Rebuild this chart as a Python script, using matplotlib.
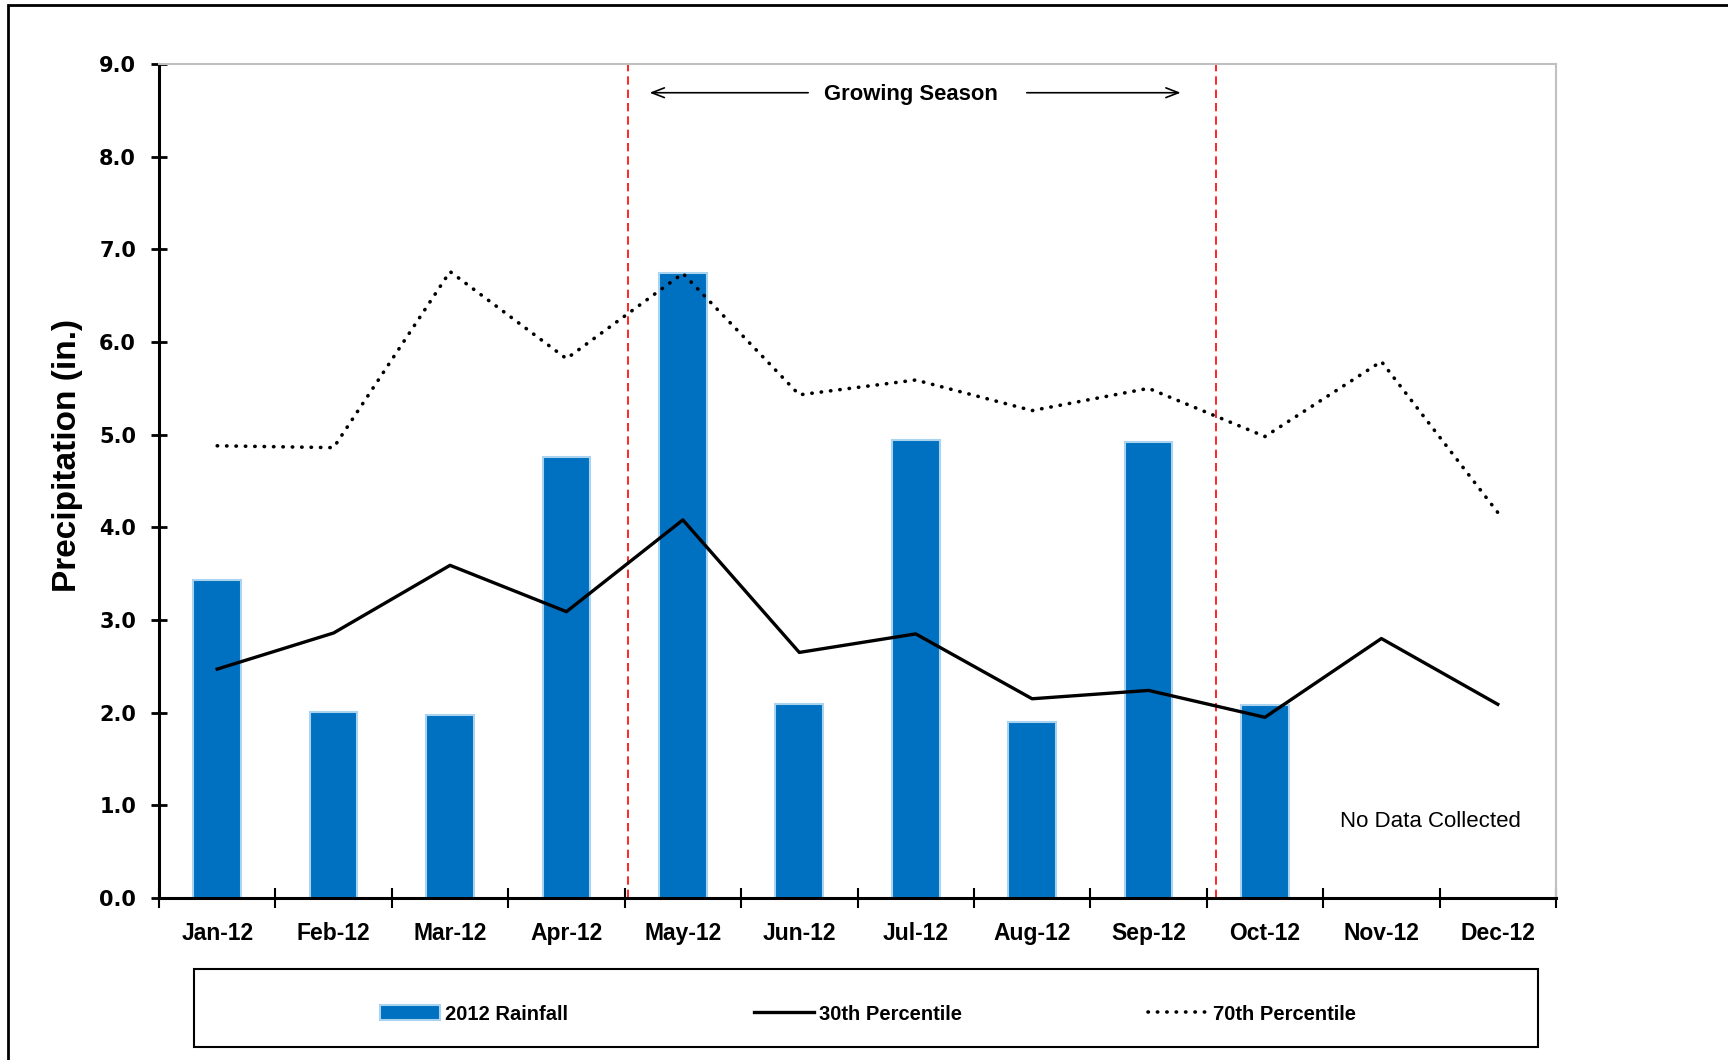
import numpy as np
import matplotlib
matplotlib.use("Agg")
import matplotlib.pyplot as plt
from matplotlib.patches import Rectangle

plt.rcParams['font.family'] = ['Liberation Sans', 'DejaVu Sans']

# data
months = ['Jan-12', 'Feb-12', 'Mar-12', 'Apr-12', 'May-12', 'Jun-12',
          'Jul-12', 'Aug-12', 'Sep-12', 'Oct-12', 'Nov-12', 'Dec-12']
rain_2012 = [3.43, 2.01, 1.97, 4.76, 6.74, 2.09, 4.94, 1.90, 4.92, 2.08, np.nan, np.nan]
pct30 = [2.47, 2.86, 3.59, 3.09, 4.08, 2.65, 2.85, 2.15, 2.24, 1.95, 2.80, 2.09]
pct70 = [4.88, 4.86, 6.76, 5.82, 6.74, 5.43, 5.59, 5.26, 5.50, 4.98, 5.79, 4.16]
season_start = 3.53
season_end = 8.58

fig = plt.figure(figsize=(17.28, 10.6), dpi=100)
ax = fig.add_axes([159 / 1728, 1 - 898 / 1060, 1397 / 1728, 834 / 1060])

x = np.arange(len(months))
bars = ax.bar(x, rain_2012, width=0.41, color='#0070c0', edgecolor='#a9d3ef',
              linewidth=1.5, label='2012 Rainfall', zorder=2)
ax.plot(x, pct30, color='black', lw=2.4, label='30th Percentile', zorder=3)
ax.plot(x, pct70, color='black', lw=2.6, linestyle=(0, (0.1, 2.5)),
        dash_capstyle='round', label='70th Percentile', zorder=3)

# growing season markers
for xv in (season_start, season_end):
    ax.axvline(xv, color='#ff0000', lw=1.2, linestyle=(0, (5, 3)), zorder=1)
ax.text(5.96, 8.67, 'Growing Season', ha='center', va='center',
        fontsize=15.8, fontweight='bold')
ax.annotate('', xy=(3.69, 8.69), xytext=(5.10, 8.69),
            arrowprops=dict(arrowstyle='->,head_length=0.9,head_width=0.35', lw=1.2, color='black'))
ax.annotate('', xy=(8.30, 8.69), xytext=(6.93, 8.69),
            arrowprops=dict(arrowstyle='->,head_length=0.9,head_width=0.35', lw=1.2, color='black'))
ax.text(10.42, 0.83, 'No Data Collected', ha='center', va='center', fontsize=16)

ax.set_xlim(-0.5, len(months) - 0.5)
ax.set_ylim(0, 9)
ax.set_yticks(np.arange(0, 9.1, 1.0))
ax.set_yticklabels(['%.1f' % v for v in np.arange(0, 9.1, 1.0)],
                   fontsize=15, fontweight='bold', family='DejaVu Sans')
ax.set_xticks(x)
ax.set_xticklabels(months, fontsize=16.5, fontweight='bold')
ax.set_xticks(np.arange(-0.5, len(months)), minor=True)
ax.tick_params(axis='x', which='major', length=0, pad=17)
ax.tick_params(axis='x', which='minor', length=14, width=1.5, direction='inout')
ax.tick_params(axis='y', which='major', length=11, width=2, direction='inout', pad=11)

for s in ('left', 'bottom'):
    ax.spines[s].set_linewidth(2.2)
for s in ('top', 'right'):
    ax.spines[s].set_color('#c0c0c0')
    ax.spines[s].set_linewidth(1.5)

ax.set_ylabel('Precipitation (in.)', fontsize=24, fontweight='bold')
ax.yaxis.set_label_coords(-76 / 1397, 0.53)

# legend box
fig.patches.append(Rectangle((194 / 1728, 1 - 1047 / 1060), 1344 / 1728, 78 / 1060,
                             transform=fig.transFigure, fill=False, lw=1.5,
                             edgecolor='black'))
h, l = ax.get_legend_handles_labels()
order = [2, 0, 1]
fig.legend([h[i] for i in order], [l[i] for i in order], loc='center',
           bbox_to_anchor=(868 / 1728, 1 - 1014 / 1060),
           ncol=3, frameon=False, prop=dict(size=14.5, weight='bold'),
           handlelength=3.0, handletextpad=0.25, columnspacing=9.2)

# outer chart frame
fig.patches.append(Rectangle((8 / 1728, -0.1), 1.1, 1.1 - 5 / 1060,
                             transform=fig.transFigure, fill=False, lw=2,
                             edgecolor='black'))

fig.savefig('out.png', dpi=100)
